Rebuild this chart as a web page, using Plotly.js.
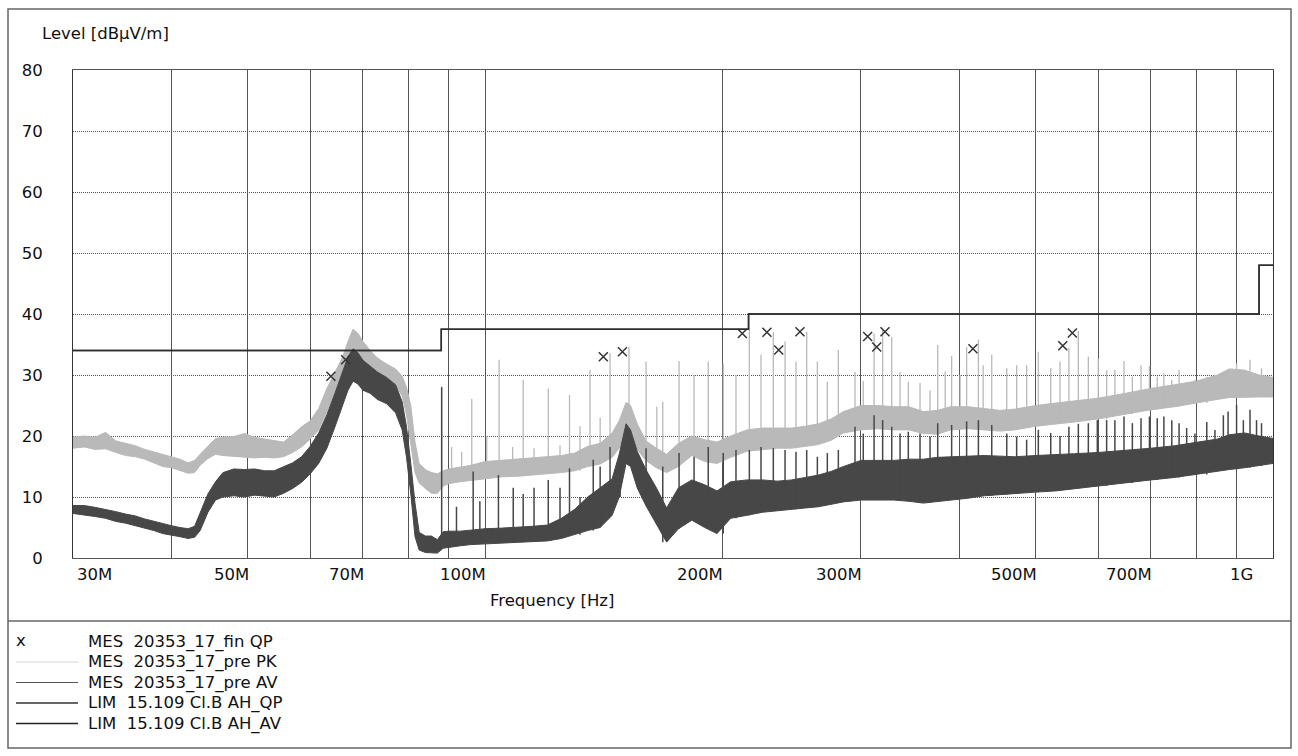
<!DOCTYPE html>
<html><head><meta charset="utf-8">
<script src="https://cdn.plot.ly/plotly-3.0.1.min.js"></script>
<style>html,body{margin:0;padding:0;background:#fff}#chart{width:1298px;height:756px}</style>
</head><body><div id="chart"></div>
<script>
// ---------------- data (frequencies in MHz, levels in dBµV/m) ----------------
const seriesNames = ['MES \u00a020353_17_fin QP', 'MES \u00a020353_17_pre PK', 'MES \u00a020353_17_pre AV', 'LIM \u00a015.109 Cl.B AH_QP', 'LIM \u00a015.109 Cl.B AH_AV'];
const xLabelText = ['30M','50M','70M','100M','200M','300M','500M','700M','1G'];
const xLabelMHz  = [30, 50, 70, 100, 200, 300, 500, 700, 1000];
const xGridMHz   = [40, 50, 60, 70, 80, 90, 100, 200, 300, 400, 500, 600, 700, 800, 900];
const yTicks     = [0, 10, 20, 30, 40, 50, 60, 70, 80];

// pre-scan PK envelope (lower / upper edge of the noisy band)
const pkFreq = [30,31,32,33,34,35,36,37,38,39,40,41,42,42.8,43.5,44.5,45.5,46.5,48,49.5,51,52.5,54,55.5,57,58.5,60,61.5,63,64.5,66,67,68,69,70,71.5,73,75,77,78.5,79.5,80.5,81.5,82.5,84,85.5,87,88.5,90,93,96,100,105,110,115,120,125,130,135,140,145,148,151,153,156,160,165,170,176,183,190,197,205,215,225,235,245,255,265,275,285,300,315,330,345,360,375,390,410,430,450,470,500,530,560,600,650,700,750,800,850,880,920,960,1000];
const pkLo = [18.0,18.2,17.8,17.9,17.3,16.8,16.6,16.2,15.6,15.0,14.8,14.4,13.9,14.0,15.2,16.3,17.0,16.8,16.7,16.5,16.4,16.5,16.4,16.6,17.3,18.2,19.5,21.0,24.0,27.0,29.5,31.5,33.0,33.5,32.5,31.3,30.4,29.6,28.5,26.5,23.5,18.5,14.0,12.3,11.4,10.6,10.6,11.8,12.2,12.5,12.7,13.0,13.3,13.4,13.6,13.8,14.0,14.3,15.0,15.4,16.5,18.0,20.5,20.0,17.8,16.0,14.8,14.0,15.0,16.8,15.8,15.5,16.5,17.5,17.8,18.0,18.0,18.3,18.6,19.3,20.5,21.0,21.2,21.0,21.0,20.4,20.3,21.0,21.2,21.0,20.8,21.0,21.6,22.0,22.3,22.8,23.6,24.3,24.8,25.4,26.0,26.3,26.4,26.4,26.4];
const pkHi = [19.8,20.0,19.8,20.6,19.2,18.8,18.4,17.8,17.4,17.0,16.6,16.2,15.6,16.0,17.0,18.4,19.6,19.8,19.9,20.4,19.8,19.5,19.2,19.0,20.2,21.5,22.5,24.5,27.8,30.5,33.0,35.5,37.5,36.8,35.5,34.0,32.8,31.8,31.0,29.8,28.0,25.0,19.0,15.5,14.5,14.0,13.8,14.3,14.6,14.9,15.2,15.8,16.0,16.2,16.4,16.6,16.8,17.2,18.3,18.8,20.5,22.5,25.5,25.0,22.0,19.2,18.0,17.0,18.8,20.0,19.4,19.0,20.0,21.0,21.3,21.3,21.3,21.6,22.0,22.8,24.0,25.0,25.0,24.8,24.8,24.0,24.2,24.8,24.8,24.5,24.2,24.4,25.0,25.4,25.8,26.2,27.0,27.8,28.4,29.0,30.0,31.0,30.8,30.0,29.6];
const pkSpikeFreq = [88.1,90.7,93.4,96.2,100.5,104.2,108.4,111.8,115.4,120.3,124.5,128.0,132.0,135.9,140,144.1,152.3,160.1,165.2,168.1,176.3,184.2,192.0,200.6,208.2,216.5,224.0,232.2,240.3,248.1,256.0,264.1,271.9,280.8,294.8,302,311.7,319.6,328.2,336.3,344.5,356.5,367.1,375.4,383.7,391,400.8,408.5,422.8,428.7,439.6,459.3,472.8,486.8,503.7,522.3,536.7,550.8,566.2,583,600.2,615,630,647,663,680,697,713,727,744,760,777,796,824,844,865,899,935,967];
const pkSpikeTop  = [28.1,18.2,17.4,26.1,19.9,32.5,18.2,29.2,18.0,27.8,18.5,26.7,21.6,30.8,23.0,33.6,34.6,32.2,24.8,25.6,32.3,30.0,32.2,31.9,30.0,37.4,33.3,37.0,35.5,32.2,37.1,32.2,28.9,34.1,30.5,29.0,36.8,37.4,36.2,30.5,28.9,28.7,27.5,34.9,30.6,33.1,30.0,34.6,35.8,31.6,33.3,31.1,31.6,31.6,33.8,31.1,32.2,34.4,37.2,33.0,32.7,30.8,30.8,32.3,29.7,31.6,31.5,29.7,30.3,29.2,30.8,28.1,29.2,29.7,28.6,30.5,31.9,32.5,31.1];

// pre-scan AV envelope
const avFreq = [30,31,32,33,34,35,36,37,38,39,40,41,42,42.8,43.5,44.5,45.5,46.5,48,49.5,51,52.5,54,55.5,57,58.5,60,61.5,63,64.5,66,67,68,69,70,71.5,73,75,77,78.5,79.5,80.5,81.5,82.5,84,85.5,87,88.5,90,93,96,100,105,110,115,120,125,130,135,140,145,148,151,153,156,160,165,170,176,183,190,197,205,215,225,235,245,255,265,275,285,300,315,330,345,360,375,390,410,430,450,470,500,530,560,600,650,700,750,800,850,880,920,960,1000];
const avLo = [7.3,7.0,6.8,6.5,6.0,5.7,5.3,4.9,4.5,4.0,3.8,3.5,3.2,3.4,4.5,7.5,9.5,10.0,10.2,10.0,10.3,10.2,10.0,10.6,11.4,12.4,13.8,15.5,18.0,21.5,25.0,27.5,29.0,28.5,27.5,27.0,26.0,25.3,23.8,21.0,16.5,10.5,3.5,1.3,0.9,0.8,0.8,1.6,1.8,2.0,2.2,2.4,2.5,2.6,2.7,2.8,3.2,3.8,4.5,5.0,7.0,10.0,15.5,15.0,11.5,8.6,5.5,2.6,4.8,6.2,5.0,4.0,6.5,7.0,7.5,7.8,8.0,8.2,8.4,8.8,9.2,9.5,9.5,9.5,9.3,9.0,9.2,9.5,9.8,10.2,10.4,10.6,10.8,11.0,11.4,11.8,12.3,12.8,13.2,13.7,14.2,14.5,14.8,15.1,15.5];
const avHi = [8.6,8.6,8.3,8.0,7.6,7.2,6.9,6.4,6.0,5.6,5.3,5.0,4.8,5.2,7.5,10.5,12.5,14.0,14.6,14.5,14.6,14.3,14.3,15.0,15.6,16.6,18.3,20.5,23.5,27.0,30.5,33.0,34.3,33.6,32.4,31.5,30.5,29.6,28.4,25.6,21.5,15.5,9.0,4.2,3.6,3.6,3.0,4.3,4.4,4.4,4.6,4.8,4.9,5.0,5.2,5.4,6.5,8.0,10.0,11.5,13.0,17.0,22.0,21.0,17.5,14.5,11.5,8.2,11.5,12.8,12.0,11.0,12.5,12.8,12.8,12.6,12.8,13.2,13.6,14.2,15.0,16.0,16.0,16.0,16.2,16.2,16.5,16.6,16.8,16.8,16.7,16.6,16.8,17.0,17.1,17.3,17.6,18.0,18.4,19.0,19.5,20.2,20.5,20.0,19.6];
const avSpikeFreq = [88.1,92,96.6,98.5,104,108.6,111.8,115.4,120.3,124.5,128,132,137.2,140,144.1,148.4,160.1,168.1,176.3,184.2,192.0,200.6,208.2,216.5,224.0,232.2,240.3,248.1,256.0,264.1,271.9,280.8,294.8,302,311.7,319.6,328.2,336.3,344.5,356.5,367.1,375.4,391,408.5,422.8,439.6,459.3,472.8,486.8,503.7,522.3,536.7,550.8,566.2,583,598.5,615,630,647,663,680,697,713,727,744,760,777,796,824,844,865,877,899,917,935,953,967];
const avSpikeTop  = [28.0,8.4,14.2,9.3,13.6,11.5,10.5,11.5,12.8,11.5,14.7,10.0,16.1,15.0,18.2,15.0,18.0,15.0,17.2,16.6,18.2,17.2,17.7,17.7,18.2,18.0,17.7,17.4,17.7,16.6,17.2,17.7,21.5,20.4,23.4,22.6,21.5,20.4,20.7,20.4,19.9,22.1,21.8,22.4,22.6,21.8,20.4,19.9,19.4,21.0,20.5,20.0,21.5,22.0,22.1,22.6,22.6,22.6,23.2,22.1,22.9,23.2,22.9,23.2,22.6,22.1,21.3,20.4,22.3,21.0,23.4,24.0,25.1,22.6,24.3,22.6,22.1];

// final QP measurements
const qpFreq  = [63.74,66.55,141.3,149.4,212.1,227.9,235.9,251.0,305.9,314.1,321.8,416.1,541.0,556.4];
const qpLevel = [29.8,32.5,33.0,33.8,36.8,37.0,34.1,37.1,36.3,34.6,37.1,34.3,34.8,36.9];

// limit lines (step starts)
const limFreq  = [30, 88, 216, 960, 1000];
const limQP    = [34, 37.5, 40, 48, 48];
const limAV    = [34, 37.5, 40, 48, 48];

// ---------------- build ----------------
const HZ = 1e6;
const toHz = a => a.map(f => f * HZ);

function bandTrace(freq, lo, hi, color) {
  const xs = freq.concat(freq.slice().reverse());
  const ys = hi.concat(lo.slice().reverse());
  return {x: toHz(xs), y: ys, type: 'scatter', mode: 'lines', fill: 'toself',
          fillcolor: color, line: {color: color, width: 1}, hoverinfo: 'skip'};
}
function nearestIdx(freq, f) {
  let best = 0, bd = Infinity;
  for (let i = 0; i < freq.length; i++) {
    const d = Math.abs(Math.log(freq[i]) - Math.log(f));
    if (d < bd) { bd = d; best = i; }
  }
  return best;
}
function spikeTrace(sf, st, freq, lo, color, width) {
  const xs = [], ys = [];
  sf.forEach((f, i) => {
    const j = nearestIdx(freq, f);
    xs.push(f * HZ, f * HZ, null);
    ys.push(Math.min(lo[j], st[i]), st[i], null);
  });
  return {x: xs, y: ys, type: 'scatter', mode: 'lines', connectgaps: false,
          line: {color: color, width: width}, hoverinfo: 'skip'};
}

const PK_COLOR = '#b9b9b9', AV_COLOR = '#474747', LIM_COLOR = '#2e2e2e';
const traces = [
  bandTrace(pkFreq, pkLo, pkHi, PK_COLOR),
  spikeTrace(pkSpikeFreq, pkSpikeTop, pkFreq, pkLo, PK_COLOR, 1.3),
  bandTrace(avFreq, avLo, avHi, AV_COLOR),
  spikeTrace(avSpikeFreq, avSpikeTop, avFreq, avLo, AV_COLOR, 1.5),
  {x: toHz(limFreq), y: limAV, type: 'scatter', mode: 'lines', name: seriesNames[4],
   line: {color: LIM_COLOR, width: 1.5, shape: 'hv'}},
  {x: toHz(limFreq), y: limQP, type: 'scatter', mode: 'lines', name: seriesNames[3],
   line: {color: LIM_COLOR, width: 1.5, shape: 'hv'}},
  {x: toHz(qpFreq), y: qpLevel, type: 'scatter', mode: 'markers', name: seriesNames[0],
   marker: {symbol: 'x-thin-open', size: 9, color: '#333', line: {color: '#333', width: 1.5}}}
];

// pixel helpers for layout placement (plot area 73..1273 x 70..558)
const PL = 73, PT = 70, PW = 1200, PH = 488;
const px = x => (x - PL) / PW;
const py = y => (PT + PH - y) / PH;

const FONT = {family: 'DejaVu Sans, Liberation Sans, Arial, sans-serif', size: 16.5, color: '#111'};
const annotations = [];
xLabelText.forEach((t, i) => {
  const first = i === 0, last = i === xLabelText.length - 1;
  annotations.push({text: t, x: Math.log10(xLabelMHz[i] * HZ), xref: 'x', y: py(574), yref: 'paper',
    showarrow: false, xanchor: first ? 'left' : 'right', yanchor: 'middle',
    xshift: first ? 2 : (last ? -18 : 3), font: FONT});
});
annotations.push({text: 'Level [dBµV/m]', x: px(40), y: py(33), xref: 'paper', yref: 'paper',
  showarrow: false, xanchor: 'left', yanchor: 'middle', font: FONT});
annotations.push({text: 'Frequency [Hz]', x: px(552), y: py(600), xref: 'paper', yref: 'paper',
  showarrow: false, xanchor: 'center', yanchor: 'middle', font: FONT});

const shapes = [
  {type: 'rect', xref: 'paper', yref: 'paper', x0: px(8), x1: px(1291), y0: py(748), y1: py(9),
   line: {color: '#666', width: 1.5}, layer: 'below'},
  {type: 'line', xref: 'paper', yref: 'paper', x0: px(8), x1: px(1291), y0: py(621), y1: py(621),
   line: {color: '#666', width: 1.5}}
];

// legend block (text from seriesNames)
const legendRowY = [641.5, 662, 682.5, 703, 723.5];
const legendLine = [null, {c: '#d4d4d4', w: 1}, {c: '#555', w: 1}, {c: '#333', w: 1.5}, {c: '#222', w: 1.5}];
seriesNames.forEach((n, i) => {
  annotations.push({text: n, x: px(86), y: py(legendRowY[i]), xref: 'paper', yref: 'paper',
    showarrow: false, xanchor: 'left', yanchor: 'middle', font: FONT});
  if (legendLine[i]) {
    shapes.push({type: 'line', xref: 'paper', yref: 'paper', x0: px(16), x1: px(78),
      y0: py(legendRowY[i]), y1: py(legendRowY[i]), line: {color: legendLine[i].c, width: legendLine[i].w}});
  } else {
    annotations.push({text: 'x', x: px(21), y: py(legendRowY[i] - 1), xref: 'paper', yref: 'paper',
      showarrow: false, xanchor: 'center', yanchor: 'middle', font: FONT});
  }
});

const layout = {
  width: 1298, height: 756, autosize: false,
  margin: {l: 73, r: 25, t: 70, b: 198, pad: 0},
  paper_bgcolor: '#fff', plot_bgcolor: '#fff', showlegend: false,
  font: FONT,
  xaxis: {type: 'log', range: [Math.log10(30 * HZ), Math.log10(1000 * HZ)],
    tickmode: 'array', tickvals: toHz(xGridMHz), showticklabels: false, ticks: '',
    showgrid: true, gridcolor: '#555', gridwidth: 1,
    showline: true, mirror: true, linecolor: '#555', linewidth: 1, zeroline: false},
  yaxis: {range: [0, 80], tickmode: 'array', tickvals: yTicks, ticktext: yTicks.map(String),
    ticks: '', ticklabelstandoff: 26, tickfont: FONT,
    showgrid: true, gridcolor: '#555', gridwidth: 1, griddash: '1px,1px',
    showline: true, mirror: true, linecolor: '#333', linewidth: 1, zeroline: false},
  annotations: annotations, shapes: shapes
};

Plotly.newPlot('chart', traces, layout, {staticPlot: true, displayModeBar: false});
</script></body></html>
